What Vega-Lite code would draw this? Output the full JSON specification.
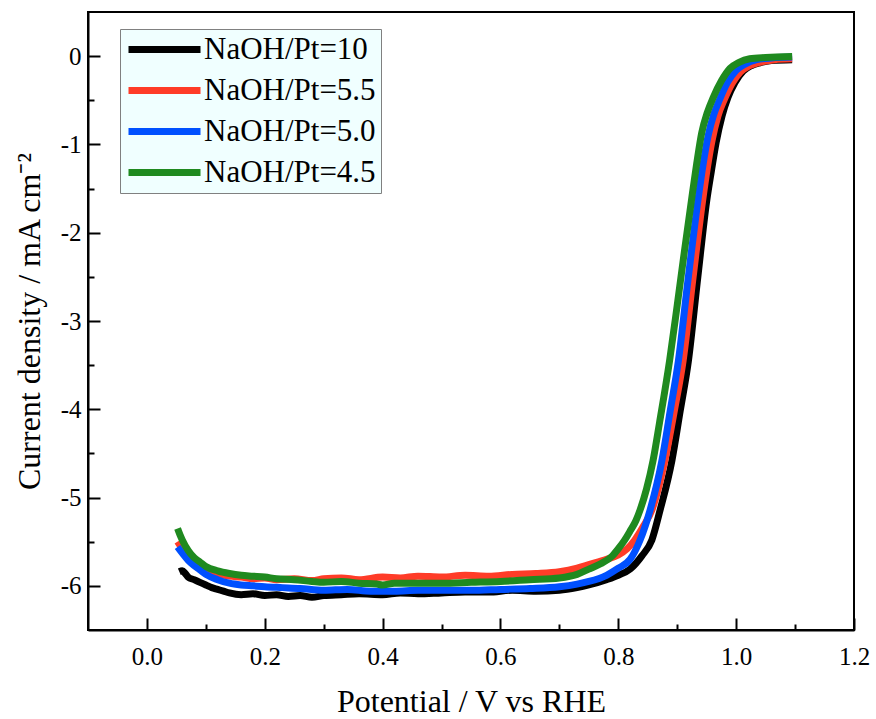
{
  "$schema": "https://vega.github.io/schema/vega-lite/v6.json",
  "width": 766,
  "height": 618,
  "autosize": {"type": "none"},
  "padding": {"left": 88, "top": 12, "right": 22, "bottom": 89},
  "background": "white",
  "config": {
    "view": {"stroke": "black", "strokeWidth": 2},
    "font": "Liberation Serif, Times New Roman, serif",
    "axis": {"grid": false, "domainColor": "black", "domainWidth": 2, "tickColor": "black", "tickWidth": 2, "labelColor": "black", "titleColor": "black", "labelFont": "Liberation Serif, Times New Roman, serif", "titleFont": "Liberation Serif, Times New Roman, serif", "titleFontWeight": "normal", "labelFontSize": 25, "titleFontSize": 32}
  },
  "data": {"values": [
    {"s":"NaOH/Pt=10","x":0.055,"y":-5.84},{"s":"NaOH/Pt=10","x":0.060,"y":-5.83},{"s":"NaOH/Pt=10","x":0.065,"y":-5.86},{"s":"NaOH/Pt=10","x":0.070,"y":-5.90},{"s":"NaOH/Pt=10","x":0.080,"y":-5.93},{"s":"NaOH/Pt=10","x":0.090,"y":-5.96},{"s":"NaOH/Pt=10","x":0.100,"y":-5.99},{"s":"NaOH/Pt=10","x":0.110,"y":-6.02},{"s":"NaOH/Pt=10","x":0.120,"y":-6.04},{"s":"NaOH/Pt=10","x":0.130,"y":-6.06},{"s":"NaOH/Pt=10","x":0.140,"y":-6.08},{"s":"NaOH/Pt=10","x":0.160,"y":-6.10},{"s":"NaOH/Pt=10","x":0.180,"y":-6.09},{"s":"NaOH/Pt=10","x":0.200,"y":-6.11},{"s":"NaOH/Pt=10","x":0.220,"y":-6.10},{"s":"NaOH/Pt=10","x":0.240,"y":-6.12},{"s":"NaOH/Pt=10","x":0.260,"y":-6.11},{"s":"NaOH/Pt=10","x":0.280,"y":-6.13},{"s":"NaOH/Pt=10","x":0.300,"y":-6.11},{"s":"NaOH/Pt=10","x":0.330,"y":-6.10},{"s":"NaOH/Pt=10","x":0.360,"y":-6.09},{"s":"NaOH/Pt=10","x":0.400,"y":-6.10},{"s":"NaOH/Pt=10","x":0.430,"y":-6.08},{"s":"NaOH/Pt=10","x":0.460,"y":-6.09},{"s":"NaOH/Pt=10","x":0.500,"y":-6.08},{"s":"NaOH/Pt=10","x":0.540,"y":-6.07},{"s":"NaOH/Pt=10","x":0.580,"y":-6.07},{"s":"NaOH/Pt=10","x":0.620,"y":-6.05},{"s":"NaOH/Pt=10","x":0.660,"y":-6.06},{"s":"NaOH/Pt=10","x":0.700,"y":-6.05},{"s":"NaOH/Pt=10","x":0.730,"y":-6.02},{"s":"NaOH/Pt=10","x":0.750,"y":-5.99},{"s":"NaOH/Pt=10","x":0.780,"y":-5.93},{"s":"NaOH/Pt=10","x":0.800,"y":-5.88},{"s":"NaOH/Pt=10","x":0.820,"y":-5.81},{"s":"NaOH/Pt=10","x":0.840,"y":-5.66},{"s":"NaOH/Pt=10","x":0.857,"y":-5.48},{"s":"NaOH/Pt=10","x":0.871,"y":-5.14},{"s":"NaOH/Pt=10","x":0.891,"y":-4.58},{"s":"NaOH/Pt=10","x":0.905,"y":-4.02},{"s":"NaOH/Pt=10","x":0.919,"y":-3.45},{"s":"NaOH/Pt=10","x":0.935,"y":-2.50},{"s":"NaOH/Pt=10","x":0.950,"y":-1.64},{"s":"NaOH/Pt=10","x":0.958,"y":-1.30},{"s":"NaOH/Pt=10","x":0.966,"y":-0.98},{"s":"NaOH/Pt=10","x":0.976,"y":-0.68},{"s":"NaOH/Pt=10","x":0.986,"y":-0.47},{"s":"NaOH/Pt=10","x":0.998,"y":-0.30},{"s":"NaOH/Pt=10","x":1.012,"y":-0.17},{"s":"NaOH/Pt=10","x":1.025,"y":-0.11},{"s":"NaOH/Pt=10","x":1.040,"y":-0.075},{"s":"NaOH/Pt=10","x":1.060,"y":-0.05},{"s":"NaOH/Pt=10","x":1.095,"y":-0.04},
    {"s":"NaOH/Pt=5.5","x":0.052,"y":-5.50},{"s":"NaOH/Pt=5.5","x":0.060,"y":-5.58},{"s":"NaOH/Pt=5.5","x":0.070,"y":-5.66},{"s":"NaOH/Pt=5.5","x":0.080,"y":-5.73},{"s":"NaOH/Pt=5.5","x":0.090,"y":-5.78},{"s":"NaOH/Pt=5.5","x":0.100,"y":-5.82},{"s":"NaOH/Pt=5.5","x":0.120,"y":-5.86},{"s":"NaOH/Pt=5.5","x":0.140,"y":-5.89},{"s":"NaOH/Pt=5.5","x":0.160,"y":-5.90},{"s":"NaOH/Pt=5.5","x":0.180,"y":-5.92},{"s":"NaOH/Pt=5.5","x":0.200,"y":-5.91},{"s":"NaOH/Pt=5.5","x":0.220,"y":-5.93},{"s":"NaOH/Pt=5.5","x":0.250,"y":-5.92},{"s":"NaOH/Pt=5.5","x":0.280,"y":-5.94},{"s":"NaOH/Pt=5.5","x":0.300,"y":-5.92},{"s":"NaOH/Pt=5.5","x":0.330,"y":-5.91},{"s":"NaOH/Pt=5.5","x":0.360,"y":-5.93},{"s":"NaOH/Pt=5.5","x":0.400,"y":-5.90},{"s":"NaOH/Pt=5.5","x":0.430,"y":-5.91},{"s":"NaOH/Pt=5.5","x":0.460,"y":-5.89},{"s":"NaOH/Pt=5.5","x":0.500,"y":-5.90},{"s":"NaOH/Pt=5.5","x":0.540,"y":-5.88},{"s":"NaOH/Pt=5.5","x":0.580,"y":-5.89},{"s":"NaOH/Pt=5.5","x":0.620,"y":-5.87},{"s":"NaOH/Pt=5.5","x":0.660,"y":-5.86},{"s":"NaOH/Pt=5.5","x":0.700,"y":-5.84},{"s":"NaOH/Pt=5.5","x":0.730,"y":-5.80},{"s":"NaOH/Pt=5.5","x":0.750,"y":-5.76},{"s":"NaOH/Pt=5.5","x":0.780,"y":-5.70},{"s":"NaOH/Pt=5.5","x":0.800,"y":-5.65},{"s":"NaOH/Pt=5.5","x":0.815,"y":-5.58},{"s":"NaOH/Pt=5.5","x":0.828,"y":-5.48},{"s":"NaOH/Pt=5.5","x":0.843,"y":-5.32},{"s":"NaOH/Pt=5.5","x":0.857,"y":-5.14},{"s":"NaOH/Pt=5.5","x":0.879,"y":-4.58},{"s":"NaOH/Pt=5.5","x":0.895,"y":-4.02},{"s":"NaOH/Pt=5.5","x":0.910,"y":-3.45},{"s":"NaOH/Pt=5.5","x":0.927,"y":-2.50},{"s":"NaOH/Pt=5.5","x":0.943,"y":-1.64},{"s":"NaOH/Pt=5.5","x":0.951,"y":-1.27},{"s":"NaOH/Pt=5.5","x":0.959,"y":-0.96},{"s":"NaOH/Pt=5.5","x":0.969,"y":-0.68},{"s":"NaOH/Pt=5.5","x":0.980,"y":-0.49},{"s":"NaOH/Pt=5.5","x":0.993,"y":-0.31},{"s":"NaOH/Pt=5.5","x":1.007,"y":-0.18},{"s":"NaOH/Pt=5.5","x":1.022,"y":-0.11},{"s":"NaOH/Pt=5.5","x":1.040,"y":-0.07},{"s":"NaOH/Pt=5.5","x":1.065,"y":-0.04},{"s":"NaOH/Pt=5.5","x":1.095,"y":-0.03},
    {"s":"NaOH/Pt=5.0","x":0.052,"y":-5.56},{"s":"NaOH/Pt=5.0","x":0.060,"y":-5.63},{"s":"NaOH/Pt=5.0","x":0.070,"y":-5.71},{"s":"NaOH/Pt=5.0","x":0.080,"y":-5.77},{"s":"NaOH/Pt=5.0","x":0.090,"y":-5.82},{"s":"NaOH/Pt=5.0","x":0.100,"y":-5.87},{"s":"NaOH/Pt=5.0","x":0.120,"y":-5.93},{"s":"NaOH/Pt=5.0","x":0.140,"y":-5.97},{"s":"NaOH/Pt=5.0","x":0.160,"y":-5.99},{"s":"NaOH/Pt=5.0","x":0.180,"y":-6.00},{"s":"NaOH/Pt=5.0","x":0.200,"y":-6.01},{"s":"NaOH/Pt=5.0","x":0.230,"y":-6.02},{"s":"NaOH/Pt=5.0","x":0.260,"y":-6.03},{"s":"NaOH/Pt=5.0","x":0.300,"y":-6.05},{"s":"NaOH/Pt=5.0","x":0.340,"y":-6.04},{"s":"NaOH/Pt=5.0","x":0.380,"y":-6.06},{"s":"NaOH/Pt=5.0","x":0.420,"y":-6.06},{"s":"NaOH/Pt=5.0","x":0.460,"y":-6.05},{"s":"NaOH/Pt=5.0","x":0.500,"y":-6.05},{"s":"NaOH/Pt=5.0","x":0.550,"y":-6.05},{"s":"NaOH/Pt=5.0","x":0.600,"y":-6.04},{"s":"NaOH/Pt=5.0","x":0.650,"y":-6.03},{"s":"NaOH/Pt=5.0","x":0.700,"y":-6.01},{"s":"NaOH/Pt=5.0","x":0.730,"y":-5.98},{"s":"NaOH/Pt=5.0","x":0.750,"y":-5.95},{"s":"NaOH/Pt=5.0","x":0.780,"y":-5.88},{"s":"NaOH/Pt=5.0","x":0.800,"y":-5.80},{"s":"NaOH/Pt=5.0","x":0.820,"y":-5.70},{"s":"NaOH/Pt=5.0","x":0.837,"y":-5.48},{"s":"NaOH/Pt=5.0","x":0.854,"y":-5.14},{"s":"NaOH/Pt=5.0","x":0.874,"y":-4.58},{"s":"NaOH/Pt=5.0","x":0.888,"y":-4.02},{"s":"NaOH/Pt=5.0","x":0.902,"y":-3.45},{"s":"NaOH/Pt=5.0","x":0.918,"y":-2.55},{"s":"NaOH/Pt=5.0","x":0.935,"y":-1.64},{"s":"NaOH/Pt=5.0","x":0.944,"y":-1.22},{"s":"NaOH/Pt=5.0","x":0.9525,"y":-0.90},{"s":"NaOH/Pt=5.0","x":0.962,"y":-0.66},{"s":"NaOH/Pt=5.0","x":0.972,"y":-0.49},{"s":"NaOH/Pt=5.0","x":0.985,"y":-0.30},{"s":"NaOH/Pt=5.0","x":1.000,"y":-0.16},{"s":"NaOH/Pt=5.0","x":1.015,"y":-0.09},{"s":"NaOH/Pt=5.0","x":1.035,"y":-0.04},{"s":"NaOH/Pt=5.0","x":1.060,"y":-0.02},{"s":"NaOH/Pt=5.0","x":1.095,"y":-0.01},
    {"s":"NaOH/Pt=4.5","x":0.052,"y":-5.35},{"s":"NaOH/Pt=4.5","x":0.056,"y":-5.42},{"s":"NaOH/Pt=4.5","x":0.060,"y":-5.48},{"s":"NaOH/Pt=4.5","x":0.070,"y":-5.60},{"s":"NaOH/Pt=4.5","x":0.080,"y":-5.68},{"s":"NaOH/Pt=4.5","x":0.090,"y":-5.73},{"s":"NaOH/Pt=4.5","x":0.100,"y":-5.78},{"s":"NaOH/Pt=4.5","x":0.120,"y":-5.83},{"s":"NaOH/Pt=4.5","x":0.140,"y":-5.86},{"s":"NaOH/Pt=4.5","x":0.160,"y":-5.88},{"s":"NaOH/Pt=4.5","x":0.180,"y":-5.89},{"s":"NaOH/Pt=4.5","x":0.200,"y":-5.90},{"s":"NaOH/Pt=4.5","x":0.220,"y":-5.92},{"s":"NaOH/Pt=4.5","x":0.250,"y":-5.93},{"s":"NaOH/Pt=4.5","x":0.280,"y":-5.95},{"s":"NaOH/Pt=4.5","x":0.300,"y":-5.96},{"s":"NaOH/Pt=4.5","x":0.330,"y":-5.95},{"s":"NaOH/Pt=4.5","x":0.360,"y":-5.97},{"s":"NaOH/Pt=4.5","x":0.390,"y":-5.98},{"s":"NaOH/Pt=4.5","x":0.400,"y":-5.99},{"s":"NaOH/Pt=4.5","x":0.420,"y":-5.97},{"s":"NaOH/Pt=4.5","x":0.450,"y":-5.97},{"s":"NaOH/Pt=4.5","x":0.500,"y":-5.97},{"s":"NaOH/Pt=4.5","x":0.550,"y":-5.96},{"s":"NaOH/Pt=4.5","x":0.600,"y":-5.95},{"s":"NaOH/Pt=4.5","x":0.650,"y":-5.93},{"s":"NaOH/Pt=4.5","x":0.700,"y":-5.91},{"s":"NaOH/Pt=4.5","x":0.730,"y":-5.87},{"s":"NaOH/Pt=4.5","x":0.750,"y":-5.81},{"s":"NaOH/Pt=4.5","x":0.770,"y":-5.75},{"s":"NaOH/Pt=4.5","x":0.790,"y":-5.66},{"s":"NaOH/Pt=4.5","x":0.800,"y":-5.58},{"s":"NaOH/Pt=4.5","x":0.811,"y":-5.48},{"s":"NaOH/Pt=4.5","x":0.820,"y":-5.38},{"s":"NaOH/Pt=4.5","x":0.830,"y":-5.26},{"s":"NaOH/Pt=4.5","x":0.837,"y":-5.14},{"s":"NaOH/Pt=4.5","x":0.848,"y":-4.90},{"s":"NaOH/Pt=4.5","x":0.859,"y":-4.58},{"s":"NaOH/Pt=4.5","x":0.870,"y":-4.15},{"s":"NaOH/Pt=4.5","x":0.887,"y":-3.45},{"s":"NaOH/Pt=4.5","x":0.900,"y":-2.82},{"s":"NaOH/Pt=4.5","x":0.912,"y":-2.22},{"s":"NaOH/Pt=4.5","x":0.924,"y":-1.64},{"s":"NaOH/Pt=4.5","x":0.933,"y":-1.22},{"s":"NaOH/Pt=4.5","x":0.9415,"y":-0.87},{"s":"NaOH/Pt=4.5","x":0.951,"y":-0.64},{"s":"NaOH/Pt=4.5","x":0.961,"y":-0.47},{"s":"NaOH/Pt=4.5","x":0.975,"y":-0.28},{"s":"NaOH/Pt=4.5","x":0.9895,"y":-0.14},{"s":"NaOH/Pt=4.5","x":1.005,"y":-0.07},{"s":"NaOH/Pt=4.5","x":1.023,"y":-0.03},{"s":"NaOH/Pt=4.5","x":1.050,"y":-0.015},{"s":"NaOH/Pt=4.5","x":1.095,"y":-0.005}
  ]},
  "layer": [
    {
      "mark": {"type": "line", "strokeWidth": 7, "interpolate": "monotone"},
      "encoding": {
        "x": {"field": "x", "type": "quantitative", "scale": {"domain": [-0.1, 1.2], "nice": false, "zero": false},
          "axis": {"orient": "bottom", "values": [0, 0.2, 0.4, 0.6, 0.8, 1.0, 1.2], "labelExpr": "format(datum.value, '.1f')", "ticks": false, "labelPadding": 14, "title": "Potential / V vs RHE", "titlePadding": 17, "labelFlush": false}},
        "y": {"field": "y", "type": "quantitative", "scale": {"domain": [-6.5, 0.5], "nice": false, "zero": false},
          "axis": {"orient": "left", "values": [-6, -5, -4, -3, -2, -1, 0], "labelExpr": "'' + datum.value", "ticks": false, "labelPadding": 7, "title": "Current density / mA cm⁻²", "titlePadding": 14, "labelFlush": false}},
        "color": {"field": "s", "type": "nominal",
          "scale": {"domain": ["NaOH/Pt=10", "NaOH/Pt=5.5", "NaOH/Pt=5.0", "NaOH/Pt=4.5"], "range": ["#000000", "#ff3c28", "#0050ff", "#1f8a1f"]},
          "legend": {"orient": "none", "legendX": 32, "legendY": 17, "title": null, "fillColor": "#f0ffff", "strokeColor": "#808080", "padding": 5, "symbolType": "M-1,0H5", "symbolSize": 576, "symbolStrokeWidth": 7, "labelFont": "Liberation Serif, Times New Roman, serif", "labelFontSize": 31, "labelColor": "black", "labelOffset": 48, "labelLimit": 400, "rowPadding": 9}}
      }
    },
    {
      "mark": {"type": "point", "opacity": 0},
      "encoding": {
        "x": {"field": "x", "type": "quantitative", "axis": {"orient": "bottom", "values": [0, 0.2, 0.4, 0.6, 0.8, 1.0, 1.2], "labels": false, "domain": false, "title": null, "tickSize": -12}},
        "y": {"field": "y", "type": "quantitative", "axis": {"orient": "left", "values": [-6, -5, -4, -3, -2, -1, 0], "labels": false, "domain": false, "title": null, "tickSize": -12}}
      }
    },
    {
      "mark": {"type": "point", "opacity": 0},
      "encoding": {
        "x": {"field": "x", "type": "quantitative", "axis": {"orient": "bottom", "values": [0.1, 0.3, 0.5, 0.7, 0.9, 1.1], "labels": false, "domain": false, "title": null, "tickSize": -6}},
        "y": {"field": "y", "type": "quantitative", "axis": {"orient": "left", "values": [-5.5, -4.5, -3.5, -2.5, -1.5, -0.5], "labels": false, "domain": false, "title": null, "tickSize": -6}}
      }
    }
  ],
  "resolve": {"axis": {"x": "independent", "y": "independent"}}
}
